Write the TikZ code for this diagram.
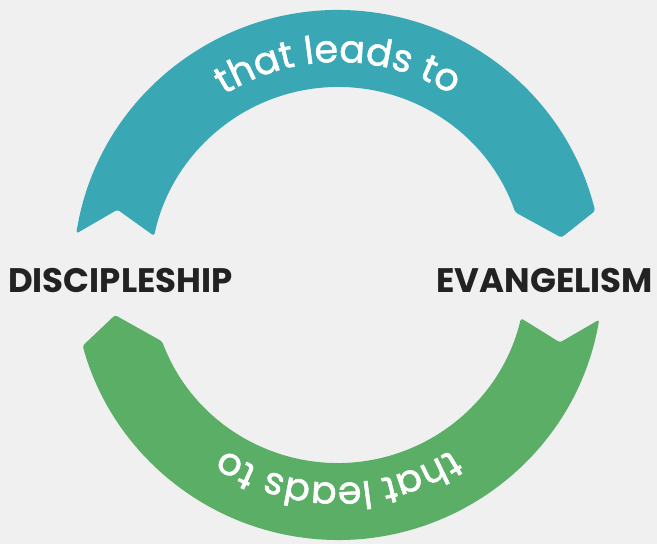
\documentclass[tikz,border=0pt]{standalone}
\usepackage{fontspec}
\newfontfamily\popfont{Poppins}
\newfontfamily\popmid[FakeBold=1.3]{Poppins}
\usetikzlibrary{decorations.text}
\definecolor{bgc}{RGB}{240,240,240}
\definecolor{tealc}{RGB}{58,168,180}
\definecolor{greenc}{RGB}{91,174,101}
\definecolor{inkc}{RGB}{34,34,34}
\tikzset{
  band/.style={rounded corners=2.5pt},
  label/.style={inner sep=0pt, text=inkc, font=\popfont\bfseries\fontsize{34}{36}\selectfont},
}
\begin{document}
\begin{tikzpicture}[x=1pt,y=1pt]
\fill[bgc] (0,0) rectangle (657,544);
\useasboundingbox (0,0) rectangle (657,544);
\begin{scope}[shift={(338,269)}]
  % teal arc (top)
  \fill[tealc, band] (171:265) arc (171:14:265) -- (9.5:226.5) -- (19.5:188)
      arc (19.5:168:188) -- (163.5:230) -- cycle;
  % green arc (bottom)
  \fill[greenc, band] (350.3:265) arc (350.3:195.5:265) -- (190.2:226.5) -- (200.7:188)
      arc (200.7:346.7:188) -- (343.1:232) -- cycle;
  % curved texts
  \path[decorate, decoration={text along path, text align=center, text color=white,
      text={|\popmid\fontsize{38}{40}\selectfont|that leads to}}]
      (125:213) arc (125:55:213);
  \path[decorate, decoration={text along path, text align=center, text color=white,
      text={|\popmid\fontsize{38}{40}\selectfont|that leads to}}]
      (305:208) arc (305:235:208);
\end{scope}
\node[label, anchor=base west] (disc) at (8,251) {DISCIPLESHIP};
\node[label, anchor=base east] (evan) at (653,251) {EVANGELISM};
\end{tikzpicture}
\end{document}
